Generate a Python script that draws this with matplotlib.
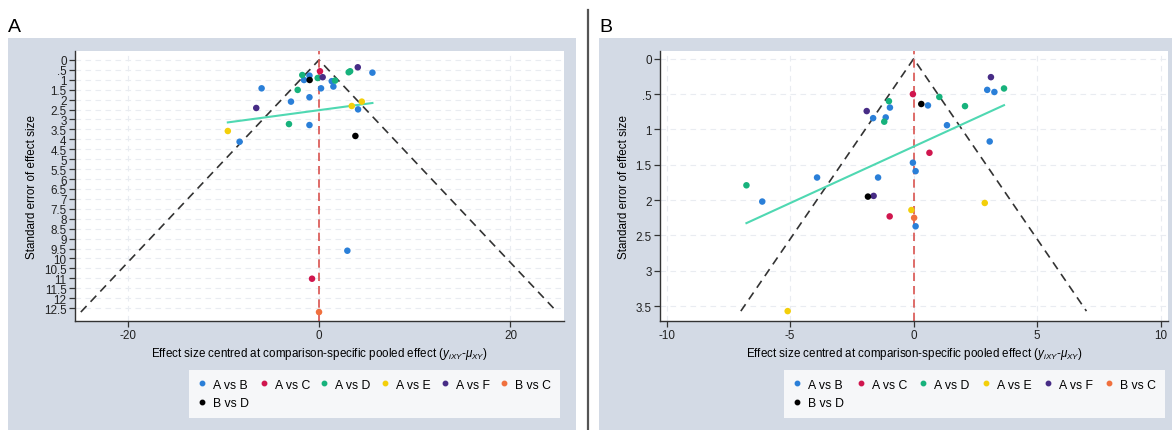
import matplotlib
matplotlib.use("Agg")
import matplotlib.pyplot as plt
from matplotlib.patches import Rectangle
from matplotlib.lines import Line2D
import numpy as np

plt.rcParams['font.family'] = ['Liberation Sans', 'DejaVu Sans']
plt.rcParams['mathtext.fontset'] = 'custom'
plt.rcParams['mathtext.rm'] = 'Liberation Sans'
plt.rcParams['mathtext.it'] = 'Liberation Sans:italic'

# ---------------- data ----------------
comparisons = ["A vs B", "A vs C", "A vs D", "A vs E", "A vs F", "B vs C", "B vs D"]
colors = ["#2a7fd8", "#d0164e", "#17b27c", "#f3cf0a", "#472c86", "#f0703e", "#000000"]

# Panel A: centred effect size (x) and standard error (se) per comparison
a_x = {
    "A vs B": [-6.0, -2.93, -8.3, -1.0, -1.57, 5.58, 1.33, 1.5, 0.21, -1.0, 4.08, -1.0, 2.96],
    "A vs C": [0.1, -0.73],
    "A vs D": [-2.23, -3.14, -1.75, -0.14, 3.25, 3.1, 1.68],
    "A vs E": [-9.53, 3.42, 4.47],
    "A vs F": [-6.56, 0.38, 4.05],
    "B vs C": [0.0],
    "B vs D": [-0.98, 3.8],
}
a_se = {
    "A vs B": [1.43, 2.1, 4.12, 0.79, 1.01, 0.64, 1.07, 1.34, 1.43, 1.88, 2.49, 3.28, 9.61],
    "A vs C": [0.57, 11.02],
    "A vs D": [1.51, 3.23, 0.76, 0.91, 0.57, 0.62, 1.04],
    "A vs E": [3.58, 2.32, 2.1],
    "A vs F": [2.42, 0.87, 0.37],
    "B vs C": [12.7],
    "B vs D": [1.01, 3.83],
}

# Panel B
b_x = {
    "A vs B": [-6.13, -3.91, -1.44, -1.64, -1.13, -0.96, 0.58, 1.35, 2.98, 3.27, 3.08, -0.03, 0.08, 0.08],
    "A vs C": [-0.03, 0.64, -0.97],
    "A vs D": [-6.77, -1.19, -1.0, 1.04, 2.08, 3.66],
    "A vs E": [2.88, -0.09, -5.1],
    "A vs F": [-1.9, -1.62, 3.13],
    "B vs C": [0.02],
    "B vs D": [0.31, -1.85],
}
b_se = {
    "A vs B": [2.02, 1.68, 1.68, 0.84, 0.83, 0.69, 0.66, 0.94, 0.44, 0.47, 1.17, 1.47, 1.59, 2.37],
    "A vs C": [0.5, 1.33, 2.23],
    "A vs D": [1.79, 0.89, 0.6, 0.54, 0.67, 0.42],
    "A vs E": [2.04, 2.14, 3.57],
    "A vs F": [0.74, 1.94, 0.26],
    "B vs C": [2.25],
    "B vs D": [0.64, 1.95],
}

# Fitted small-study line: se = intercept + slope * x
a_fit = (2.53, -0.0647)
b_fit = (1.242, -0.160)

a_xticks = [-20, 0, 20]
a_yticks = list(np.arange(0, 12.51, 0.5))
b_xticks = [-10, -5, 0, 5, 10]
b_yticks = [0, 0.5, 1, 1.5, 2, 2.5, 3, 3.5]

# ---------------- figure ----------------
W, H = 1172, 431
fig = plt.figure(figsize=(W / 100, H / 100), dpi=100)
fig.patch.set_facecolor("white")

BG = "#d3dae5"
FS = 8.4


def fx(px):
    return px / W


def fy(py):
    return 1 - py / H


# panel backgrounds and divider
fig.add_artist(Rectangle((fx(8), 0), fx(576 - 8), fy(39), transform=fig.transFigure,
                         facecolor=BG, edgecolor="none", zorder=0))
fig.add_artist(Rectangle((fx(599), 0), fx(1172 - 599), fy(39), transform=fig.transFigure,
                         facecolor=BG, edgecolor="none", zorder=0))
fig.add_artist(Line2D([fx(588), fx(588)], [0, fy(11)], transform=fig.transFigure,
                      color="#555555", lw=1.6))
fig.text(fx(8), fy(28), "A", fontsize=14, va="center", ha="left")
fig.text(fx(599), fy(28), "B", fontsize=14, va="center", ha="left")


def stata_fmt(v):
    s = f"{v:g}"
    if s.startswith("0.") and len(s) > 2:
        s = s[1:]
    return s


def funnel(ax, xs, ses, fit, xticks, yticks, xlim, ylim):
    ax.set_facecolor("white")
    ax.set_xlim(*xlim)
    ax.set_ylim(*ylim)
    ax.set_xticks(xticks)
    ax.set_xticklabels([stata_fmt(t) for t in xticks])
    ax.set_yticks(yticks)
    ax.set_yticklabels([stata_fmt(t) for t in yticks])
    ax.grid(True, color="#e9ecf1", linestyle=(0, (5, 4)), lw=0.8, zorder=0)
    ax.set_axisbelow(True)
    for s in ("top", "right"):
        ax.spines[s].set_visible(False)
    for s in ("left", "bottom"):
        ax.spines[s].set_color("#333333")
        ax.spines[s].set_linewidth(1.0)
    ax.tick_params(axis="both", direction="out", length=4, width=0.9, colors="#333333",
                   labelcolor="#222222", labelsize=FS, pad=2)

    all_x = np.concatenate([xs[c] for c in comparisons])
    all_se = np.concatenate([ses[c] for c in comparisons])
    semax = all_se.max()

    # pseudo 95% limits
    ax.plot([-1.96 * semax, 0, 1.96 * semax], [semax, 0, semax], color="#333333",
            lw=1.2, linestyle=(0, (5, 3.5)), zorder=2)
    # zero line
    ax.axvline(0, color="#d9534f", lw=1.2, linestyle=(0, (5, 3)), zorder=2)
    # fitted line over the range of the data
    xr = np.array([all_x.min(), all_x.max()])
    ax.plot(xr, fit[0] + fit[1] * xr, color="#4fd8b2", lw=1.5, zorder=3)

    for c, col in zip(comparisons, colors):
        ax.scatter(xs[c], ses[c], s=22, color=col, edgecolors="none", zorder=4, label=c)

    ax.set_ylabel("Standard error of effect size", fontsize=FS, labelpad=4)
    ax.set_xlabel(r"Effect size centred at comparison-specific pooled effect ($y_{iXY}$-$\mu_{XY}$)",
                  fontsize=FS, labelpad=3)


axA = fig.add_axes([fx(75), fy(322), fx(564 - 75), fy(52) - fy(322)])
funnel(axA, a_x, a_se, a_fit, a_xticks, a_yticks, (-25.5, 25.6), (13.15, -0.45))

axB = fig.add_axes([fx(660), fy(322), fx(1168 - 660), fy(52) - fy(322)])
funnel(axB, b_x, b_se, b_fit, b_xticks, b_yticks, (-10.27, 10.3), (3.71, -0.11))


def add_legend(x0, x1, y0, y1):
    handles = [Line2D([], [], marker="o", ls="none", color=col, markersize=3.2)
               for col in colors]
    # column-major fill: first column holds the two entries of the left column
    order = [0, 6, 1, 2, 3, 4, 5]
    leg = fig.legend([handles[i] for i in order], [comparisons[i] for i in order],
                     ncol=6, loc="upper left", mode="expand",
                     bbox_to_anchor=(fx(x0), fy(y1), fx(x1 - x0), fy(y0) - fy(y1)),
                     bbox_transform=fig.transFigure, frameon=True, fancybox=False,
                     fontsize=FS + 0.4, handlelength=0.8, handletextpad=0.5,
                     borderpad=0.7, labelspacing=0.55, borderaxespad=0,
                     columnspacing=1.0)
    leg.get_frame().set_facecolor("white")
    leg.get_frame().set_edgecolor("none")
    return leg


add_legend(189, 560, 371, 416)
add_legend(784, 1165, 371, 416)

fig.savefig("out.png", dpi=100, facecolor="white")
